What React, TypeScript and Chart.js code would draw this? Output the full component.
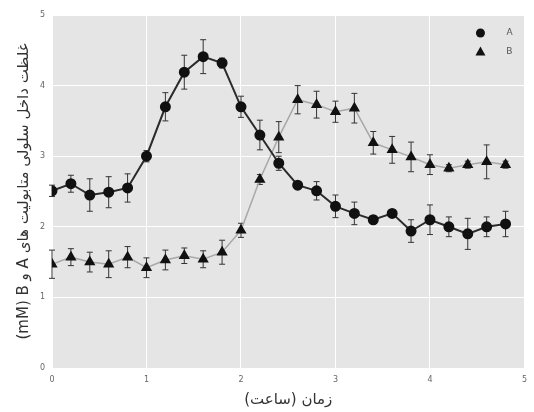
import React, { useEffect, useRef } from 'react';
import { Chart, registerables } from 'chart.js';

Chart.register(...registerables);

const times = [0, 0.2, 0.4, 0.6, 0.8, 1.0, 1.2, 1.4, 1.6, 1.8, 2.0, 2.2, 2.4, 2.6, 2.8, 3.0, 3.2, 3.4, 3.6, 3.8, 4.0, 4.2, 4.4, 4.6, 4.8];
const seriesA = [2.51, 2.61, 2.45, 2.49, 2.55, 3.0, 3.7, 4.19, 4.41, 4.32, 3.7, 3.3, 2.9, 2.59, 2.51, 2.29, 2.19, 2.1, 2.19, 1.94, 2.1, 2.0, 1.9, 2.0, 2.04];
const errA = [0.08, 0.12, 0.23, 0.22, 0.2, 0.08, 0.2, 0.24, 0.24, 0.07, 0.15, 0.21, 0.1, 0.05, 0.13, 0.16, 0.16, 0.05, 0.05, 0.16, 0.21, 0.14, 0.22, 0.14, 0.18];
const seriesB = [1.47, 1.57, 1.5, 1.47, 1.57, 1.42, 1.53, 1.59, 1.54, 1.64, 1.95, 2.67, 3.27, 3.8, 3.73, 3.63, 3.68, 3.19, 3.09, 2.99, 2.88, 2.83, 2.88, 2.92, 2.88];
const errB = [0.2, 0.12, 0.14, 0.19, 0.15, 0.14, 0.14, 0.11, 0.12, 0.17, 0.1, 0.07, 0.22, 0.2, 0.19, 0.15, 0.21, 0.16, 0.19, 0.21, 0.14, 0.05, 0.05, 0.24, 0.05];
const seriesNames = ['A', 'B'];
const xTitle = 'زمان (ساعت)';
const yTitleMain = 'غلظت داخل سلولی متابولیت های A و B';
const yTitleUnit = '(mM)';
const axisMin = 0;
const axisMax = 5;

const RLE = '\u202B';
const PDF = '\u202C';
const RLM = '\u200F';

const bgPlugin = {
  id: 'bgPlugin',
  beforeDraw(chart: any) {
    const { ctx, chartArea } = chart;
    ctx.save();
    ctx.fillStyle = '#E5E5E5';
    ctx.fillRect(chartArea.left, chartArea.top, chartArea.right - chartArea.left, chartArea.bottom - chartArea.top);
    ctx.restore();
  },
};

const errorBarPlugin = {
  id: 'errorBarPlugin',
  beforeDatasetsDraw(chart: any) {
    const { ctx } = chart;
    const xs = chart.scales.x;
    const ys = chart.scales.y;
    const errs = [errA, errB];
    ctx.save();
    ctx.strokeStyle = '#333333';
    ctx.lineWidth = 1;
    chart.data.datasets.forEach((ds: any, di: number) => {
      ds.data.forEach((p: any, i: number) => {
        const e = errs[di][i];
        const px = xs.getPixelForValue(p.x);
        const top = ys.getPixelForValue(p.y + e);
        const bot = ys.getPixelForValue(p.y - e);
        ctx.beginPath();
        ctx.moveTo(px, top);
        ctx.lineTo(px, bot);
        ctx.moveTo(px - 3, top);
        ctx.lineTo(px + 3, top);
        ctx.moveTo(px - 3, bot);
        ctx.lineTo(px + 3, bot);
        ctx.stroke();
      });
    });
    ctx.restore();
  },
};

const legendPlugin = {
  id: 'customLegend',
  afterDraw(chart: any) {
    const { ctx, chartArea } = chart;
    const mx = chartArea.right - 44;
    const tx = chartArea.right - 15;
    const y0 = chartArea.top + 18;
    const dy = 19;
    ctx.save();
    ctx.fillStyle = '#111111';
    ctx.beginPath();
    ctx.arc(mx, y0, 4.5, 0, Math.PI * 2);
    ctx.fill();
    const ty = y0 + dy;
    ctx.beginPath();
    ctx.moveTo(mx, ty - 5.5);
    ctx.lineTo(mx + 5, ty + 3.5);
    ctx.lineTo(mx - 5, ty + 3.5);
    ctx.closePath();
    ctx.fill();
    ctx.fillStyle = '#555555';
    ctx.font = '9px "DejaVu Sans"';
    ctx.textAlign = 'center';
    ctx.textBaseline = 'middle';
    ctx.fillText(seriesNames[0], tx, y0);
    ctx.fillText(seriesNames[1], tx, ty);
    ctx.restore();
  },
};

export default function App() {
  const ref = useRef<HTMLCanvasElement | null>(null);

  useEffect(() => {
    document.body.style.margin = '0';
    if (!ref.current) return;
    const dataA = times.map((t, i) => ({ x: t, y: seriesA[i] }));
    const dataB = times.map((t, i) => ({ x: t, y: seriesB[i] }));
    const chart = new Chart(ref.current, {
      type: 'line',
      data: {
        datasets: [
          {
            label: seriesNames[0],
            data: dataA,
            borderColor: '#2b2b2b',
            borderWidth: 2,
            backgroundColor: '#111111',
            pointBackgroundColor: '#111111',
            pointBorderColor: '#111111',
            pointStyle: 'circle',
            pointRadius: 4.5,
            tension: 0,
          },
          {
            label: seriesNames[1],
            data: dataB,
            borderColor: '#a8a8a8',
            borderWidth: 1.5,
            backgroundColor: '#111111',
            pointBackgroundColor: '#111111',
            pointBorderColor: '#111111',
            pointStyle: 'triangle',
            pointRadius: 5,
            tension: 0,
          },
        ],
      },
      options: {
        animation: false,
        responsive: false,
        maintainAspectRatio: false,
        layout: { padding: { left: 0, right: 7, top: 15, bottom: 0 } },
        plugins: {
          legend: { display: false },
          tooltip: { enabled: false },
        },
        scales: {
          x: {
            type: 'linear',
            min: axisMin,
            max: axisMax,
            afterFit(scale: any) { scale.height = 44; },
            border: { display: false },
            grid: { color: '#FFFFFF', lineWidth: 1, drawTicks: false },
            ticks: { stepSize: 1, padding: 7, color: '#666666', font: { size: 8, family: 'DejaVu Sans' }, maxRotation: 0 },
            title: {
              display: true,
              text: RLE + xTitle + PDF,
              color: '#333333',
              font: { size: 15, family: 'DejaVu Sans' },
              padding: { top: 0, bottom: 3 },
            },
          },
          y: {
            type: 'linear',
            min: axisMin,
            max: axisMax,
            afterFit(scale: any) { scale.width = 52; },
            border: { display: false },
            grid: { color: '#FFFFFF', lineWidth: 1, drawTicks: false },
            ticks: { stepSize: 1, padding: 7, color: '#666666', font: { size: 8, family: 'DejaVu Sans' } },
            title: {
              display: true,
              text: RLE + yTitleMain + RLM + ' ' + yTitleUnit + PDF,
              color: '#333333',
              font: { size: 15, family: 'DejaVu Sans' },
              padding: { top: 15, bottom: 0 },
            },
          },
        },
      },
      plugins: [bgPlugin, errorBarPlugin, legendPlugin],
    } as any);
    return () => chart.destroy();
  }, []);

  return <canvas ref={ref} width={534} height={412} style={{ display: 'block' }} />;
}
